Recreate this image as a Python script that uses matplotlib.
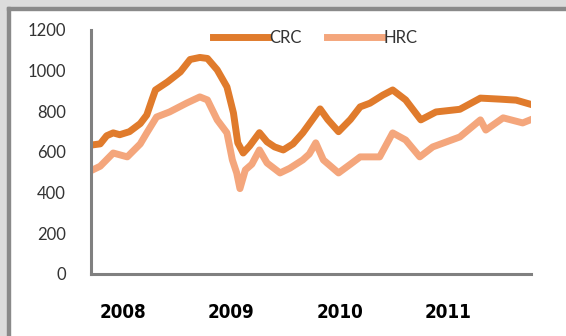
import matplotlib.pyplot as plt
from matplotlib.patches import Rectangle

# decimal years and prices
crc_x = [2007.72, 2007.79, 2007.85, 2007.91, 2007.97, 2008.06, 2008.16, 2008.22,
         2008.27, 2008.30, 2008.41, 2008.53, 2008.62, 2008.71, 2008.78, 2008.87,
         2008.96, 2009.02, 2009.06, 2009.11, 2009.17, 2009.26, 2009.33, 2009.40,
         2009.48, 2009.57, 2009.66, 2009.75, 2009.82, 2009.89, 2009.99, 2010.10,
         2010.19, 2010.28, 2010.40, 2010.49, 2010.61, 2010.75, 2010.89, 2011.11,
         2011.30, 2011.48, 2011.63, 2011.76]
crc_y = [635, 640, 680, 694, 685, 700, 740, 782,
         860, 905, 944, 994, 1055, 1065, 1060, 1004,
         920, 792, 645, 595, 630, 695, 650, 625,
         610, 640, 694, 760, 812, 760, 700, 760,
         822, 840, 880, 905, 856, 758, 797, 810,
         865, 860, 855, 835]

hrc_x = [2007.72, 2007.79, 2007.91, 2008.04, 2008.16, 2008.22, 2008.31, 2008.43,
         2008.59, 2008.71, 2008.78, 2008.87, 2008.96, 2009.01, 2009.05, 2009.08,
         2009.13, 2009.19, 2009.26, 2009.33, 2009.45, 2009.54, 2009.66, 2009.72,
         2009.78, 2009.85, 2009.99, 2010.10, 2010.19, 2010.37, 2010.49, 2010.61,
         2010.74, 2010.86, 2011.11, 2011.30, 2011.35, 2011.51, 2011.69, 2011.76]
hrc_y = [512, 530, 595, 576, 640, 694, 772, 797,
         841, 871, 856, 758, 694, 561, 497, 420,
         512, 540, 610, 546, 497, 520, 561, 590,
         645, 561, 497, 540, 576, 576, 694, 659,
         576, 625, 674, 758, 708, 768, 743, 758]

years = [2008, 2009, 2010, 2011]
y_ticks = [0, 200, 400, 600, 800, 1000, 1200]

plt.rcParams['font.family'] = ['Lato', 'DejaVu Sans']

fig = plt.figure(figsize=(5.66, 3.36), dpi=100)
fig.patch.set_facecolor('white')

# grey frame on top and left edges
W, H = 566.0, 336.0
fig.patches.append(Rectangle((0, 1 - 7 / H), 1, 7 / H, transform=fig.transFigure,
                             color='#dcdcdc', zorder=0))
fig.patches.append(Rectangle((0, 0), 7 / W, 1, transform=fig.transFigure,
                             color='#dcdcdc', zorder=0))
fig.patches.append(Rectangle((7 / W, 1 - 10 / H), 1, 3 / H, transform=fig.transFigure,
                             color='#8a8a8a', zorder=1))
fig.patches.append(Rectangle((7 / W, 0), 3 / W, 1 - 7 / H, transform=fig.transFigure,
                             color='#8a8a8a', zorder=1))

ax = fig.add_axes([91 / W, 1 - 274 / H, 440 / W, 244 / H])
ax.plot(crc_x, crc_y, color='#e07b2c', lw=5, label='CRC', solid_joinstyle='round')
ax.plot(hrc_x, hrc_y, color='#f4a67c', lw=5, label='HRC', solid_joinstyle='round')

ax.set_xlim(2007.705, 2011.767)
ax.set_ylim(0, 1200)
ax.set_xticks(years)
ax.set_xticklabels([str(y) for y in years], fontweight='bold', fontsize=13.5,
                   color='black', family='DejaVu Sans', fontstretch='condensed')
ax.set_yticks(y_ticks)
ax.set_yticklabels([str(v) for v in y_ticks], fontsize=12, color='#333333')
ax.tick_params(axis='both', length=0)
ax.tick_params(axis='y', pad=18)
ax.tick_params(axis='x', pad=21)

for side in ['top', 'right']:
    ax.spines[side].set_visible(False)
for side in ['left', 'bottom']:
    ax.spines[side].set_color('#808080')
    ax.spines[side].set_linewidth(2.2)

ax.legend(loc='center', bbox_to_anchor=(0.51, 0.967), ncol=2, frameon=False,
          fontsize=12, handlelength=3.3, handletextpad=0.1, columnspacing=1.5,
          labelcolor='#333333')

fig.savefig('out.png', dpi=100)
